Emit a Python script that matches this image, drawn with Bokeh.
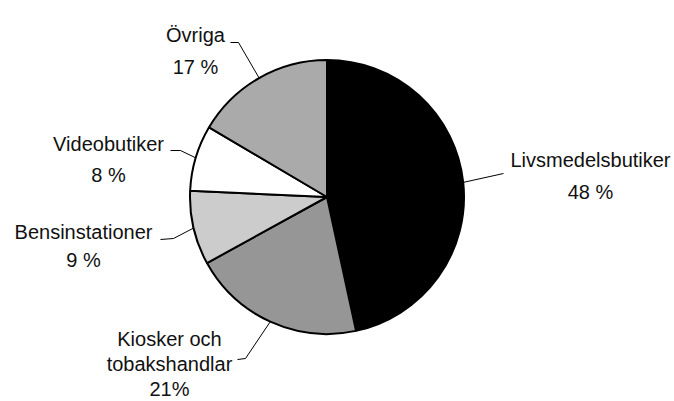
import math
from bokeh.plotting import figure
from bokeh.models import Range1d, ColumnDataSource
from bokeh.core.properties import value
from bokeh.embed import file_html
from bokeh.resources import INLINE

# ---- data ----
categories = ["Livsmedelsbutiker", "Kiosker och tobakshandlar", "Bensinstationer", "Videobutiker", "Övriga"]
shares = [48, 21, 9, 8, 17]
pct_labels = ["48 %", "21%", "9 %", "8 %", "17 %"]
name_lines = [["Livsmedelsbutiker"], ["Kiosker och", "tobakshandlar"], ["Bensinstationer"], ["Videobutiker"], ["Övriga"]]
fills = ["#000000", "#969696", "#cccccc", "#ffffff", "#aaaaaa"]

# ---- layout (plot coordinates in pixels, y up) ----
W, H = 674, 401
CX, CY, R = 326.5, 204.5, 137

def img(xi, yi):
    return xi, H - yi

# label text positions: (center x, first baseline y, line step) in image px
label_pos = [(590, 159, 32), (169, 338, 25), (83, 231, 28), (108, 143, 31), (195, 34, 32)]
# leader elbow and end points in image px
leader_pts = [[(503, 173)], [(245, 358), (237, 359)], [(173, 238), (160, 239)],
              [(180, 150), (170, 150)], [(238, 42), (230, 42)]]

total = float(sum(shares))
starts, ends, mids = [], [], []
c = 0.0
for s in shares:
    a0 = math.pi / 2 - 2 * math.pi * c / total
    a1 = math.pi / 2 - 2 * math.pi * (c + s) / total
    starts.append(a0)
    ends.append(a1)
    mids.append((a0 + a1) / 2)
    c += s

p = figure(width=W, height=H, output_backend="svg", toolbar_location=None,
           x_range=Range1d(0, W), y_range=Range1d(0, H),
           x_axis_type=None, y_axis_type=None, min_border=0)
p.grid.visible = False
p.outline_line_color = None
p.background_fill_color = "white"
p.border_fill_color = "white"

src = ColumnDataSource(dict(start=starts, end=ends, color=fills))
p.wedge(x=CX, y=CY, radius=R, start_angle="start", end_angle="end", direction="clock",
        fill_color="color", line_color="black", line_width=2, source=src)

# leader lines
for i, m in enumerate(mids):
    xs = [CX + R * math.cos(m)]
    ys = [CY + R * math.sin(m)]
    for (xi, yi) in leader_pts[i]:
        x, y = img(xi, yi)
        xs.append(x)
        ys.append(y)
    p.line(xs, ys, line_color="black", line_width=1)

# labels
tx, ty, tt = [], [], []
for i in range(len(categories)):
    cx, by, step = label_pos[i]
    lines = name_lines[i] + [pct_labels[i]]
    for j, t in enumerate(lines):
        x, y = img(cx, by + j * step)
        tx.append(x)
        ty.append(y)
        tt.append(t)
p.text(x=tx, y=ty, text=tt, text_align="center", text_baseline="alphabetic",
       text_font=value("Liberation Sans"), text_font_size="20px", text_color="#111111")

open("out.html", "w").write(file_html(p, INLINE))
